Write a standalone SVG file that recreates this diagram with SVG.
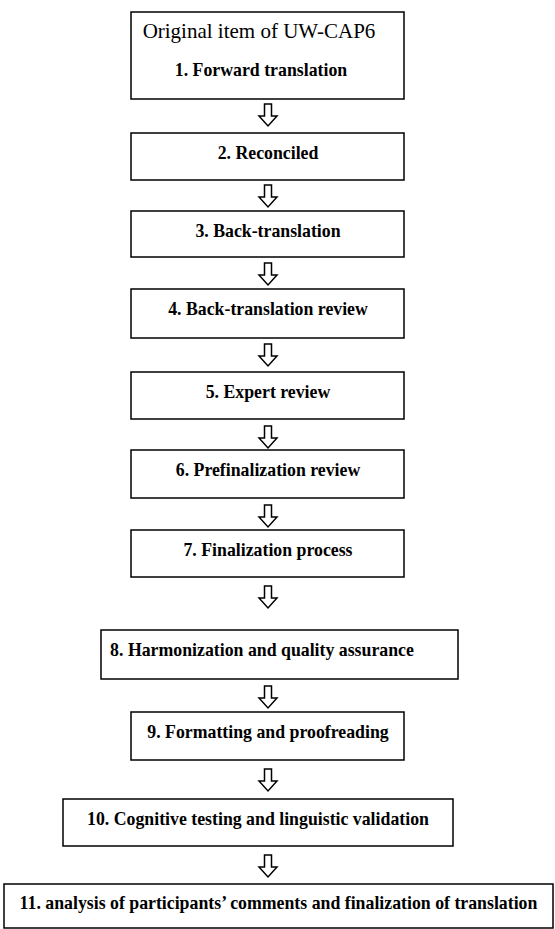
<svg xmlns="http://www.w3.org/2000/svg" width="555" height="929" viewBox="0 0 555 929">
<defs>
<style>
.box{fill:#fff;stroke:#000;stroke-width:1.5}
.lbl{font-family:"Liberation Serif","Times New Roman",serif;font-weight:bold;font-size:17.8px;fill:#000;text-anchor:middle}
.title{font-family:"Liberation Serif","Times New Roman",serif;font-size:21px;fill:#000;text-anchor:middle}
.arr{fill:#fff;stroke:#000;stroke-width:1.5;stroke-linejoin:miter}
</style>
<path id="a" d="M-3.5,0 H3.5 V12 H9 L0,22 L-9,12 H-3.5 Z"/>
</defs>
<rect width="555" height="929" fill="#fff"/>
<g id="connectors">
<use href="#a" class="arr" x="268" y="104"/>
<use href="#a" class="arr" x="268" y="185"/>
<use href="#a" class="arr" x="268" y="263"/>
<use href="#a" class="arr" x="268" y="344"/>
<use href="#a" class="arr" x="268" y="426"/>
<use href="#a" class="arr" x="268" y="505"/>
<use href="#a" class="arr" x="268" y="586"/>
<use href="#a" class="arr" x="268" y="686"/>
<use href="#a" class="arr" x="268" y="769"/>
<use href="#a" class="arr" x="268" y="855"/>
</g>
<g id="n1"><rect class="box" x="131" y="12" width="273" height="87"/>
<text class="title" x="259" y="38">Original item of UW-CAP6</text>
<text class="lbl" x="261" y="76">1. Forward translation</text></g>
<g id="n2"><rect class="box" x="131" y="133" width="273" height="47"/>
<text class="lbl" x="268" y="159">2. Reconciled</text></g>
<g id="n3"><rect class="box" x="131" y="211" width="273" height="46"/>
<text class="lbl" x="268" y="237">3. Back-translation</text></g>
<g id="n4"><rect class="box" x="131" y="289" width="273" height="49"/>
<text class="lbl" x="268" y="315">4. Back-translation review</text></g>
<g id="n5"><rect class="box" x="131" y="372" width="273" height="47"/>
<text class="lbl" x="268" y="398">5. Expert review</text></g>
<g id="n6"><rect class="box" x="131" y="450" width="273" height="48"/>
<text class="lbl" x="268" y="476">6. Prefinalization review</text></g>
<g id="n7"><rect class="box" x="131" y="530" width="273" height="47"/>
<text class="lbl" x="268" y="556">7. Finalization process</text></g>
<g id="n8"><rect class="box" x="101" y="630" width="357" height="49"/>
<text class="lbl" x="262" y="656">8. Harmonization and quality assurance</text></g>
<g id="n9"><rect class="box" x="131" y="712" width="273" height="48"/>
<text class="lbl" x="268" y="738">9. Formatting and proofreading</text></g>
<g id="n10"><rect class="box" x="63" y="799" width="390" height="47"/>
<text class="lbl" x="258" y="825">10. Cognitive testing and linguistic validation</text></g>
<g id="n11"><rect class="box" x="4" y="884" width="549" height="44"/>
<text class="lbl" x="278.5" y="909">11. analysis of participants’ comments and finalization of translation</text></g>
</svg>
